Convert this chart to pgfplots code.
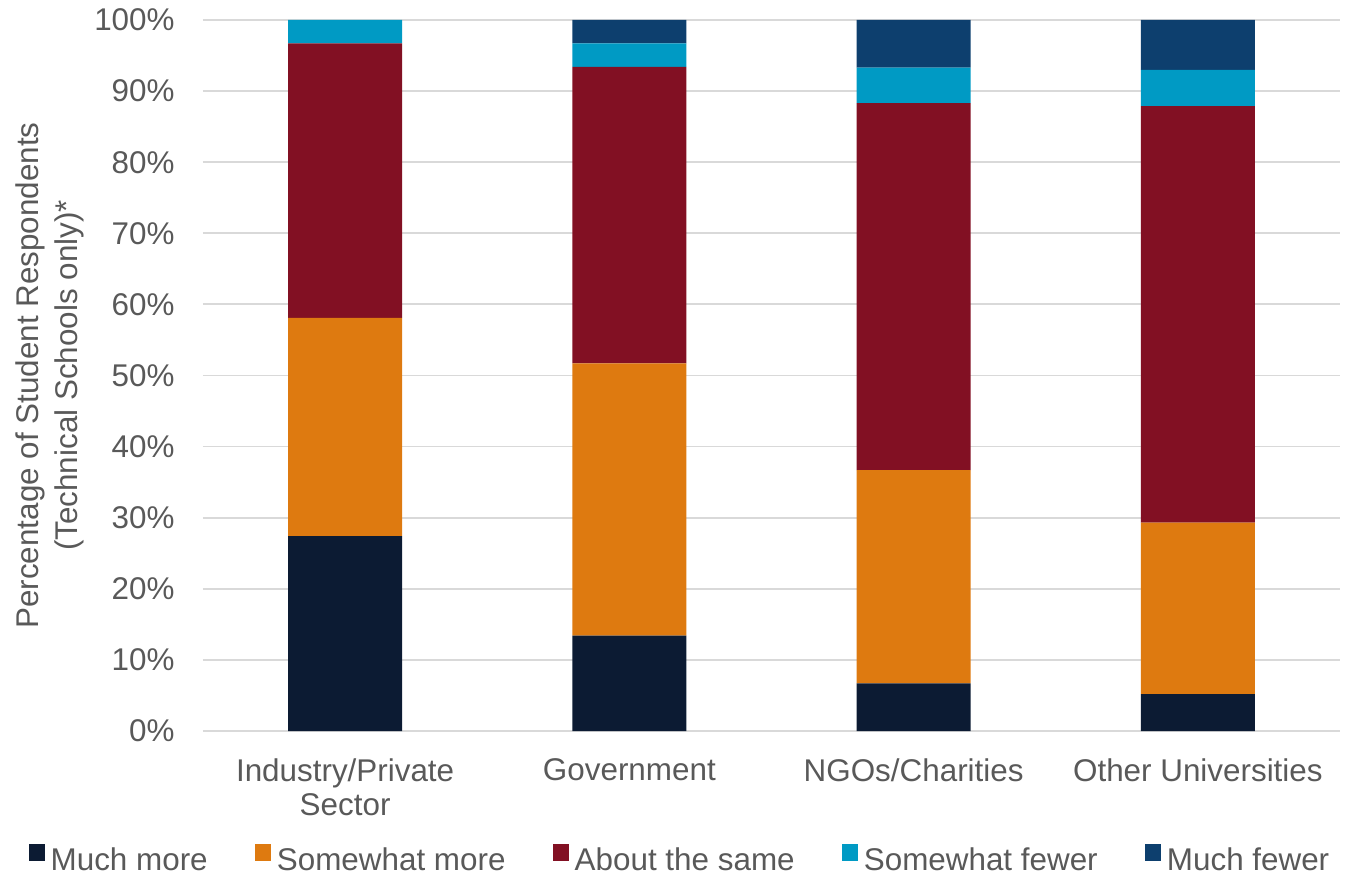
\documentclass[border=0pt]{standalone}
\usepackage{pgfplots}
\pgfplotsset{compat=1.18}
\usepackage{fontspec}
\setmainfont{Liberation Sans}
\definecolor{cMuchMore}{RGB}{12,27,51}
\definecolor{cSomeMore}{RGB}{222,122,16}
\definecolor{cSame}{RGB}{130,16,35}
\definecolor{cSomeFewer}{RGB}{0,154,196}
\definecolor{cMuchFewer}{RGB}{13,63,110}
\definecolor{txt}{RGB}{89,89,89}
\definecolor{grd}{RGB}{217,217,217}
\newcommand{\lf}{\fontsize{15.7}{17}\selectfont}
\begin{document}
\begin{tikzpicture}
\begin{axis}[
  name=ax,
  scale only axis, width=568.5pt, height=355.5pt,
  ybar stacked, bar width=57pt,
  xmin=-0.5, xmax=3.5, ymin=0, ymax=100,
  xtick={0,1,2,3},
  xticklabels={{Industry/Private\\Sector},Government,NGOs/Charities,Other Universities},
  xticklabel style={align=center, font=\lf, text=txt, anchor=north, inner sep=0pt, yshift=-13.5pt},
  ytick={0,10,...,100},
  yticklabel={\pgfmathprintnumber{\tick}\%},
  yticklabel style={font=\lf, text=txt, anchor=east, inner sep=0pt, xshift=-14pt},
  /pgf/number format/assume math mode=true,
  major tick length=0pt,
  ymajorgrids, grid style={draw=grd, line width=0.9pt},
  axis line style={draw=none},
  ylabel={Percentage of Student Respondents\\(Technical Schools only)*},
  ylabel style={font=\fontsize{15.7}{19.5}\selectfont, text=txt, align=center, at={(axis description cs:-0.135,0.5)}, anchor=center},
  legend columns=5,
  legend style={at={(0.4195,-0.181)}, anchor=center, draw=none, font=\lf, text=txt,
    /tikz/every odd column/.append style={column sep=2pt},
    /tikz/every even column/.append style={column sep=22.6pt},
    nodes={inner sep=1pt}},
  legend image code/.code={\fill[#1] (0pt,0pt) rectangle (8pt,8.5pt);},
]
\addplot[fill=cMuchMore, draw=none] coordinates {(0,27.4) (1,13.4) (2,6.7) (3,5.2)};
\addplot[fill=cSomeMore, draw=none] coordinates {(0,30.7) (1,38.3) (2,30.0) (3,24.1)};
\addplot[fill=cSame, draw=none] coordinates {(0,38.6) (1,41.7) (2,51.6) (3,58.6)};
\addplot[fill=cSomeFewer, draw=none] coordinates {(0,3.3) (1,3.3) (2,5.0) (3,5.1)};
\addplot[fill=cMuchFewer, draw=none] coordinates {(0,0) (1,3.3) (2,6.7) (3,7.0)};
\legend{Much more, Somewhat more, About the same, Somewhat fewer, Much fewer}
\end{axis}
\path ([xshift=-101.5pt, yshift=-71.5pt]ax.south west) rectangle ([xshift=10pt, yshift=10pt]ax.north east);
\end{tikzpicture}
\end{document}
